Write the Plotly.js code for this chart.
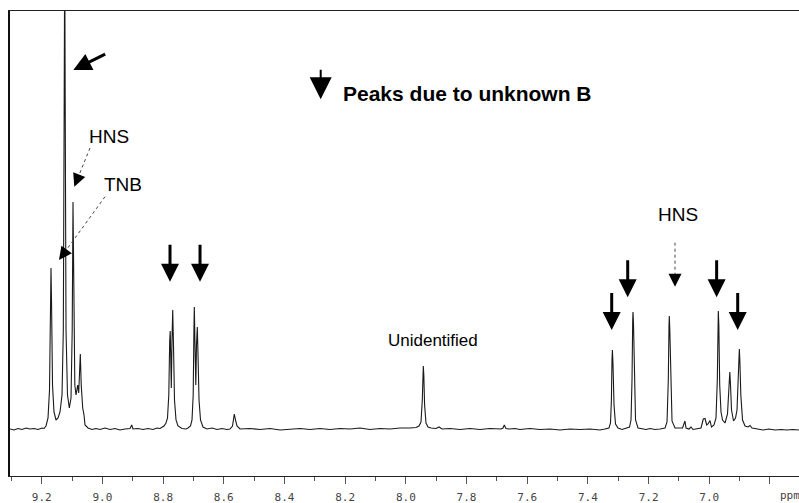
<!DOCTYPE html>
<html><head><meta charset="utf-8">
<script src="https://cdn.plot.ly/plotly-3.0.1.min.js"></script>
<style>html,body{margin:0;padding:0;background:#fff}#chart{width:799px;height:503px}</style>
</head><body><div id="chart"></div>
<script>
// Chemical shift (ppm) and signal intensity
const ppm = [
9.3045,9.2913,9.2781,9.2649,9.2517,9.2386,9.2254,9.2122,9.1990,9.1924,
9.1858,9.1792,9.1743,9.1710,9.1694,9.1677,9.1644,9.1595,9.1529,9.1463,
9.1397,9.1331,9.1288,9.1259,9.1242,9.1226,9.1199,9.1150,9.1090,9.1034,
9.0995,9.0969,9.0942,9.0909,9.0870,9.0814,9.0781,9.0754,9.0728,9.0698,
9.0649,9.0606,9.0573,9.0474,9.0342,9.0211,9.0079,8.9914,8.9749,8.9585,
8.9420,8.9255,8.9090,8.9034,8.8991,8.8827,8.8662,8.8497,8.8332,8.8200,
8.8101,8.7970,8.7904,8.7855,8.7812,8.7782,8.7765,8.7746,8.7729,8.7706,
8.7683,8.7657,8.7624,8.7574,8.7508,8.7377,8.7245,8.7179,8.7097,8.7047,
8.7008,8.6984,8.6971,8.6952,8.6922,8.6899,8.6872,8.6849,8.6816,8.6767,
8.6685,8.6553,8.6388,8.6223,8.6058,8.5894,8.5795,8.5713,8.5673,8.5653,
8.5614,8.5564,8.5465,8.5136,8.4806,8.4477,8.4147,8.3818,8.3488,8.3159,
8.2829,8.2500,8.2170,8.1840,8.1511,8.1181,8.0852,8.0522,8.0193,7.9863,
7.9666,7.9567,7.9501,7.9458,7.9435,7.9425,7.9408,7.9382,7.9336,7.9270,
7.9171,7.9006,7.8907,7.8808,7.8545,7.8215,7.7886,7.7556,7.7226,7.6864,
7.6798,7.6756,7.6700,7.6601,7.6403,7.6239,7.5909,7.5580,7.5250,7.4921,
7.4591,7.4262,7.3932,7.3602,7.3438,7.3306,7.3256,7.3226,7.3207,7.3193,
7.3173,7.3140,7.3091,7.3008,7.2876,7.2745,7.2629,7.2580,7.2547,7.2524,
7.2514,7.2497,7.2471,7.2431,7.2349,7.2217,7.2085,7.1953,7.1789,7.1624,
7.1459,7.1393,7.1351,7.1328,7.1318,7.1301,7.1268,7.1229,7.1130,7.0965,
7.0883,7.0802,7.0768,7.0670,7.0603,7.0537,7.0372,7.0273,7.0198,7.0141,
7.0086,7.0043,6.9977,6.9928,6.9845,6.9779,6.9736,6.9713,6.9703,6.9686,
6.9657,6.9614,6.9564,6.9482,6.9400,6.9357,6.9334,6.9324,6.9301,6.9268,
6.9202,6.9136,6.9087,6.9044,6.9020,6.9010,6.8994,6.8961,6.8905,6.8822,
6.8724,6.8658,6.8592,6.8427,6.8230,6.8032,6.7834,6.7636,6.7441,6.7242,
6.7044
];
const intensity = [
0,-1,0.5,-0.5,1,0,0.5,-0.5,1,0.5,
3,11,39,129,161,129,44,17,9,11,
17,34,99,329,480,329,99,34,21,31,
99,227,99,44,34,44,36,54,75,44,
21,14,4,1,-0.5,0.5,-0.5,1,-0.5,0.5,
-1,0,0.5,4,0,0.5,-0.5,0.5,-0.5,1,
0.5,3,6,11,34,89,98,69,41,89,
119,84,29,9,3,0.5,0,1,3,9,
34,99,122,89,44,84,102,74,29,9,
2,0,1,-0.5,0.5,-0.5,0,3,11,15,
9,3,0,0.5,-0.5,0.5,-1,0,0.5,-0.5,
0.5,-0.5,0.5,0,1,-0.5,0.5,0,1,1,
1.5,3,7,29,59,63,54,24,6,2,
1,0.5,2,0,0.5,-0.5,0.5,-0.5,0.5,0,
1,4,0.5,0,0.5,-0.5,0.5,-0.5,0,-1,
0,-0.5,0,-1,0,1,6,29,69,79,
64,24,5,1,-0.5,1,2,9,49,109,
117,104,44,9,1,0,-0.5,0.5,-0.5,0,
1,7,49,104,113,99,39,8,1,0.5,
1,8,1,0,2,-0.5,0,1,10,10.5,
4,5,8.5,2,4,11,49,109,118,104,
44,17,9,6,15,39,54,57,44,19,
8,11,19,49,74,80,69,34,9,3,
2,3.5,1,0,-1,0,-1,-0.5,-1,-0.5,
-1
];

const tickValues = [9.2,9.0,8.8,8.6,8.4,8.2,8.0,7.8,7.6,7.4,7.2,7.0,6.8];
const tickLabels = ['9.2','9.0','8.8','8.6','8.4','8.2','8.0','7.8','7.6','7.4','7.2','7.0',''];
const minorTickValues = [9.3,9.1,8.9,8.7,8.5,8.3,8.1,7.9,7.7,7.5,7.3,7.1,6.9,6.7];

// Tips of the "unknown B" arrows (ppm, intensity)
const unknownBppm = [8.7772, 8.6783, 7.3216, 7.2689, 6.9758, 6.9064];
const unknownBtip = [147.3, 147.3, 99, 131.7, 131.7, 99];

const trace = {
  x: ppm, y: intensity, type: 'scatter', mode: 'lines',
  line: {color: '#1a1a1a', width: 1.1}, hoverinfo: 'skip'
};

const annotations = [];
unknownBppm.forEach((p, i) => {
  annotations.push({x: p, y: unknownBtip[i], xref: 'x', yref: 'y', text: '',
    showarrow: true, ax: 0, ay: -38.5, arrowhead: 2, arrowwidth: 3, arrowsize: 1.2, arrowcolor: '#000'});
});
// legend arrow
annotations.push({x: 8.2806, y: 329.7, xref: 'x', yref: 'y', text: '', showarrow: true,
  ax: 0, ay: -31, arrowhead: 2, arrowwidth: 2, arrowsize: 2.2, arrowcolor: '#000'});
annotations.push({x: 7.7978, y: 336, xref: 'x', yref: 'y', text: '<b>Peaks due to unknown B</b>',
  showarrow: false, font: {family: 'Liberation Sans, Arial', size: 21, color: '#000'}});
// top solid arrow to the tall peak
annotations.push({x: 9.0959, y: 359, xref: 'x', yref: 'y', text: '', showarrow: true,
  ax: 33.4, ay: -16.7, arrowhead: 2, arrowwidth: 3, arrowsize: 1.2, arrowcolor: '#000'});
// labels
const labelFont = {family: 'Liberation Sans, Arial', size: 19, color: '#000'};
annotations.push({x: 8.9799, y: 292.5, xref: 'x', yref: 'y', text: 'HNS', showarrow: false, font: labelFont});
annotations.push({x: 8.9311, y: 245, xref: 'x', yref: 'y', text: 'TNB', showarrow: false, font: labelFont});
annotations.push({x: 7.1038, y: 214.5, xref: 'x', yref: 'y', text: 'HNS', showarrow: false, font: labelFont});
annotations.push({x: 7.9095, y: 89, xref: 'x', yref: 'y', text: 'Unidentified', showarrow: false,
  font: {family: 'Liberation Sans, Arial', size: 17, color: '#000'}});
// dotted arrow heads
annotations.push({x: 9.0926, y: 242.3, xref: 'x', yref: 'y', text: '', showarrow: true,
  ax: 3.8, ay: -9.3, arrowhead: 2, arrowwidth: 1, arrowsize: 2.6, arrowcolor: '#000'});
annotations.push({x: 9.1430, y: 169, xref: 'x', yref: 'y', text: '', showarrow: true,
  ax: 5.9, ay: -8.1, arrowhead: 2, arrowwidth: 1, arrowsize: 2.6, arrowcolor: '#000'});
annotations.push({x: 7.1130, y: 142.3, xref: 'x', yref: 'y', text: '', showarrow: true,
  ax: 0, ay: -10, arrowhead: 2, arrowwidth: 1, arrowsize: 2.6, arrowcolor: '#000'});
// axis unit
annotations.push({x: 0.9735, y: -0.042, xref: 'paper', yref: 'paper', xanchor: 'left', yanchor: 'middle',
  text: 'ppm', showarrow: false, font: {family: 'DejaVu Sans Mono', size: 11, color: '#444'}});

const shapes = [
  {type: 'line', xref: 'x', yref: 'y', x0: 9.0408, y0: 281, x1: 9.0802, y1: 251.6, line: {color: '#444', width: 1, dash: 'dot'}},
  {type: 'line', xref: 'x', yref: 'y', x0: 8.9914, y0: 232.3, x1: 9.1235, y1: 177.1, line: {color: '#444', width: 1, dash: 'dot'}},
  {type: 'line', xref: 'x', yref: 'y', x0: 7.1130, y0: 186.3, x1: 7.1130, y1: 152.3, line: {color: '#444', width: 1, dash: 'dot'}}
];

const layout = {
  width: 799, height: 503,
  margin: {l: 10, r: 0, t: 11, b: 27, pad: 0},
  paper_bgcolor: '#fff', plot_bgcolor: '#fff',
  showlegend: false,
  xaxis: {
    range: [9.3045, 6.7044], tickmode: 'array', tickvals: tickValues, ticktext: tickLabels,
    ticks: 'outside', ticklen: 7, tickwidth: 1, tickcolor: '#555',
    minor: {tickmode: 'array', tickvals: minorTickValues, ticks: 'outside', ticklen: 4, tickwidth: 1, tickcolor: '#555', showgrid: false},
    showline: true, linecolor: '#222', linewidth: 1, mirror: true,
    showgrid: false, zeroline: false, ticklabelstandoff: 4,
    tickfont: {family: 'DejaVu Sans Mono', size: 11, color: '#444'}
  },
  yaxis: {
    range: [-47, 418], showline: true, linecolor: '#111', linewidth: 2,
    showticklabels: false, ticks: '', showgrid: false, zeroline: false
  },
  annotations: annotations, shapes: shapes
};

Plotly.newPlot('chart', [trace], layout, {displayModeBar: false, staticPlot: true});
</script>
</body></html>
